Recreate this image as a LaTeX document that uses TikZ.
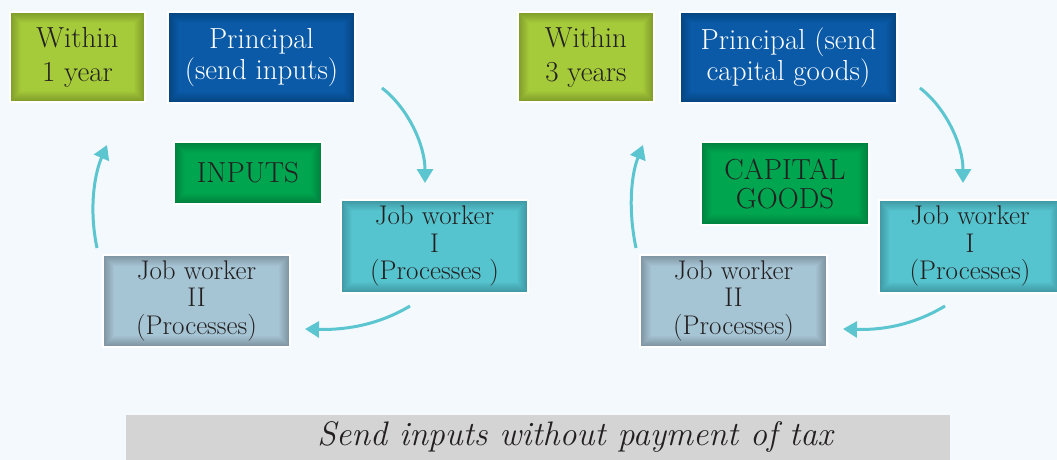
\documentclass[tikz,border=0pt]{standalone}
\usetikzlibrary{arrows.meta}
\definecolor{bg}{HTML}{F4F9FD}
\definecolor{limeC}{HTML}{A6CC3A}\definecolor{limeE}{HTML}{7F9A2A}
\definecolor{blueC}{HTML}{0A5AA8}\definecolor{blueE}{HTML}{06447F}
\definecolor{greenC}{HTML}{00A650}\definecolor{greenE}{HTML}{00803D}
\definecolor{tealC}{HTML}{56C4CF}\definecolor{tealE}{HTML}{3E97A2}
\definecolor{grayC}{HTML}{A6C4D5}\definecolor{grayE}{HTML}{7D929F}
\definecolor{barC}{HTML}{D4D4D4}
\definecolor{ink}{HTML}{231F20}
\definecolor{arr}{HTML}{5BC5D0}
\tikzset{
  vig/.style 2 args={draw=white, line width=2.5pt,
    path picture={
      \fill[#2] (path picture bounding box.south west) rectangle (path picture bounding box.north east);
      \foreach \i [evaluate=\i as \p using \i*9] in {1,...,11}{
        \fill[#1!\p!#2] ([shift={(\i pt,\i pt)}]path picture bounding box.south west) rectangle ([shift={(-\i pt,-\i pt)}]path picture bounding box.north east);
      }
    }},
  box/.style={rectangle, inner sep=0pt, align=center, text=ink, font=\fontsize{29}{31}\selectfont},
  jw/.style={box, font=\fontsize{27}{27.5}\selectfont},
  flow/.style={draw=arr, line width=3pt, -{Triangle[length=14pt,width=16pt]}},
}
\begin{document}
\begin{tikzpicture}[x=1pt,y=-1pt]
\fill[bg] (0,0) rectangle (1057,460);
\useasboundingbox (0,0) rectangle (1057,460);
% left cycle
\node[box, vig={limeC}{limeE}, minimum width=135pt, minimum height=90pt, font=\fontsize{29}{34}\selectfont] (w1) at (77.5,57) {Within\\1 year};
\node[box, vig={blueC}{blueE}, text=white, minimum width=187pt, minimum height=91pt] (p1) at (261.5,57.5) {Principal\\(send inputs)};
\node[box, vig={greenC}{greenE}, minimum width=148pt, minimum height=62pt] (in) at (248,173) {INPUTS};
\node[jw, vig={tealC}{tealE}, minimum width=187pt, minimum height=93pt] (j1l) at (434.5,246.5) {Job worker\\I\\(Processes )};
\node[jw, vig={grayC}{grayE}, minimum width=187pt, minimum height=92pt] (j2l) at (196.5,301) {Job worker\\II\\(Processes)};
% right cycle
\node[box, vig={limeC}{limeE}, minimum width=136pt, minimum height=90pt, font=\fontsize{29}{34}\selectfont] (w3) at (586,57) {Within\\3 years};
\node[box, vig={blueC}{blueE}, text=white, minimum width=217pt, minimum height=91pt] (p3) at (788.5,57.5) {Principal (send\\capital goods)};
\node[box, vig={greenC}{greenE}, minimum width=168pt, minimum height=83pt, font=\fontsize{29}{29}\selectfont] (cg) at (785,183.5) {CAPITAL\\GOODS};
\node[jw, vig={tealC}{tealE}, minimum width=182pt, minimum height=93pt] (j1r) at (970,246.5) {Job worker\\I\\(Processes)};
\node[jw, vig={grayC}{grayE}, minimum width=187pt, minimum height=92pt] (j2r) at (733.5,301) {Job worker\\II\\(Processes)};
% bottom bar
\node[rectangle, fill=barC, minimum width=824pt, minimum height=46pt, inner sep=0pt] (bar) at (538,438) {};
\node[text=ink, font=\fontsize{34}{35}\selectfont\itshape, inner sep=0pt] (bartext) at (575,437) {Send inputs without payment of tax};
% arrow end points
\coordinate (a1s) at (382,88);  \coordinate (a1e) at (425,183);
\coordinate (a2s) at (410,306); \coordinate (a2e) at (305,329);
\coordinate (a3s) at (97,248);  \coordinate (a3e) at (107,145);
\coordinate (b1s) at (920,88);  \coordinate (b1e) at (963,183);
\coordinate (b2s) at (945,306); \coordinate (b2e) at (843,329);
\coordinate (b3s) at (636,248); \coordinate (b3e) at (643,145);
\draw[flow] (a1s) .. controls (408,108) and (425,145) .. (a1e);
\draw[flow] (a2s) .. controls (375,327) and (340,330) .. (a2e);
\draw[flow] (a3s) .. controls (89,210) and (94,175) .. (a3e);
\draw[flow] (b1s) .. controls (946,108) and (963,145) .. (b1e);
\draw[flow] (b2s) .. controls (910,327) and (878,330) .. (b2e);
\draw[flow] (b3s) .. controls (628,210) and (631,175) .. (b3e);
\end{tikzpicture}
\end{document}
